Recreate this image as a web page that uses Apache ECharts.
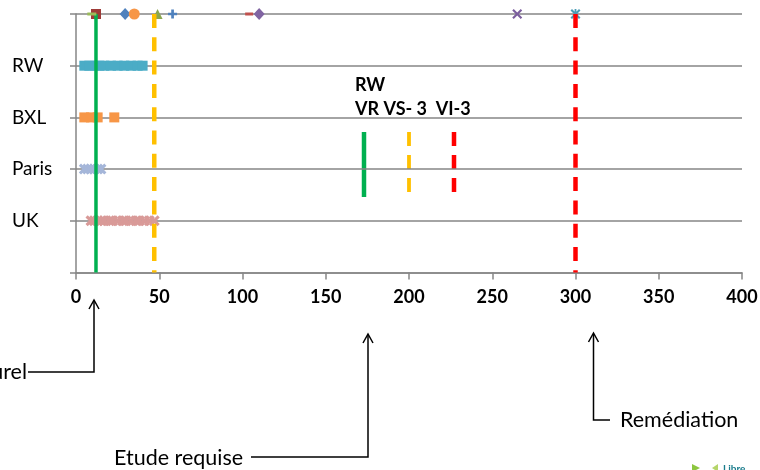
<!DOCTYPE html>
<html><head><meta charset="utf-8">
<script src="https://cdn.jsdelivr.net/npm/echarts@6/dist/echarts.min.js"></script>
<style>html,body{margin:0;padding:0;background:#fff;overflow:hidden}#c{width:760px;height:470px}</style>
</head><body><div id="c"></div>
<script>
// ---- data ----
const rowLabels = ['', 'UK', 'Paris', 'BXL', 'RW', ''];
const xMin = 0, xMax = 400, xStep = 50;
const rwValues = [5, 8, 11, 14, 17, 21, 25, 29, 33, 37, 40];
const bxlValues = [5, 9, 13, 23];
const parisValues = [5, 7, 9, 11, 13, 15];
const ukValues = [9, 11, 13, 15, 17, 20, 22, 25, 28, 30, 33, 36, 38, 41, 44, 47];
const topValues = [12, 9.5, 29.5, 35, 49, 58, 104, 110, 265, 300];
const vrValue = 12;   // valeur de référence
const vsValue = 47;   // valeur seuil
const viValue = 300;  // valeur d'intervention
const legendTitle = 'RW';
const legendLine = 'VR VS- 3  VI-3';
const annotations = ['naturel', 'Etude requise', 'Remédiation'];

// ---- styles ----
const FONT = 'Lato';
const GRID = '#868686';
const X_PATH = 'path://M0,1.5L1.5,0L5,3.5L8.5,0L10,1.5L6.5,5L10,8.5L8.5,10L5,6.5L1.5,10L0,8.5L3.5,5Z';
const XB_PATH = 'path://M0,2L2,0L5,3L8,0L10,2L7,5L10,8L8,10L5,7L2,10L0,8L3,5Z';
const PLUS_PATH = 'path://M3.5,0H6.5V3.5H10V6.5H6.5V10H3.5V6.5H0V3.5H3.5Z';
const AST_PATH = 'path://M0,1.5L1.5,0L5,3.5L8.5,0L10,1.5L6.5,5L10,8.5L8.5,10L5,6.5L1.5,10L0,8.5L3.5,5Z M4.1,0H5.9V10H4.1Z';
const topStyles = [
  {symbol: 'rect', size: 10, color: '#9E3B38', z: 2},
  {symbol: 'rect', size: [9, 3], color: '#9BBB59', z: 5},
  {symbol: 'diamond', size: [11, 12], color: '#4F81BD', z: 2},
  {symbol: 'circle', size: 11, color: '#F79646', z: 2},
  {symbol: 'triangle', size: [10, 10], color: '#8BA64F', z: 2},
  {symbol: PLUS_PATH, size: 9, color: '#4F81BD', z: 2},
  {symbol: 'rect', size: [8, 3], color: '#C0504D', z: 2},
  {symbol: 'diamond', size: [11, 12], color: '#8064A2', z: 2},
  {symbol: X_PATH, size: 10, color: '#7B5E9E', z: 2},
  {symbol: AST_PATH, size: 10, color: '#4B9DB6', z: 2}
];

function rowSeries(vals, y, symbol, size, color) {
  return {type: 'scatter', data: vals.map(v => [v, y]), symbol: symbol, symbolSize: size,
    itemStyle: {color: color, opacity: 1}, silent: true, z: 2};
}
function vline(x, color, width, dash) {
  return {type: 'line', data: [[x, 5], [x, 0]], symbol: 'none', silent: true, z: 4,
    lineStyle: {color: color, width: width, type: dash || 'solid', cap: 'butt'}};
}

const series = [
  rowSeries(rwValues, 4, 'rect', 10, '#4BACC6'),
  rowSeries(bxlValues, 3, 'rect', 10, '#F79646'),
  rowSeries(parisValues, 2, XB_PATH, [11, 11], '#A5B6D9'),
  rowSeries(ukValues, 1, XB_PATH, [11, 11], '#D99A98')
];
topValues.forEach((v, i) => {
  const s = topStyles[i];
  series.push({type: 'scatter', data: [[v, 5]], symbol: s.symbol, symbolSize: s.size,
    itemStyle: {color: s.color, opacity: 1}, silent: true, z: s.z});
});
series.push(vline(vrValue, '#00B050', 3.5));
series.push(vline(vsValue, '#FFC000', 4.5, [14, 9.3]));
series.push(vline(viValue, '#FF0000', 4.5, [14, 9.3]));

function arrow(points, tipX, tipY) {
  return [
    {type: 'polyline', shape: {points: points}, style: {stroke: '#000', lineWidth: 1.5, fill: null}, silent: true},
    {type: 'polyline', shape: {points: [[tipX - 5, tipY + 9], [tipX, tipY], [tipX + 5, tipY + 9]]},
      style: {stroke: '#000', lineWidth: 1.5, fill: null}, silent: true}
  ];
}

const graphics = [
  {type: 'text', left: 355, top: 76, style: {text: legendTitle, font: 'bold 18px ' + FONT, fill: '#000'}},
  {type: 'text', left: 355, top: 100, style: {text: legendLine, font: 'bold 18px ' + FONT, fill: '#000'}},
  {type: 'line', shape: {x1: 364, y1: 132, x2: 364, y2: 197}, style: {stroke: '#00B050', lineWidth: 4.5}},
  {type: 'line', shape: {x1: 409, y1: 132, x2: 409, y2: 192}, style: {stroke: '#FFC000', lineWidth: 3.8, lineDash: [14, 9]}},
  {type: 'line', shape: {x1: 454, y1: 132, x2: 454, y2: 192}, style: {stroke: '#FF0000', lineWidth: 4.5, lineDash: [14, 9]}},
  {type: 'text', x: 27, y: 372, style: {text: annotations[0], font: '21.5px ' + FONT, fill: '#000', align: 'right', verticalAlign: 'middle'}},
  ...arrow([[28, 372], [94, 372], [94, 301]], 94, 300),
  {type: 'text', x: 114, y: 458, style: {text: annotations[1], font: '21.5px ' + FONT, fill: '#000', align: 'left', verticalAlign: 'middle'}},
  ...arrow([[251, 457], [368, 457], [368, 335]], 368, 334),
  {type: 'text', x: 620, y: 420, style: {text: annotations[2], font: '21.5px ' + FONT, fill: '#000', align: 'left', verticalAlign: 'middle'}},
  ...arrow([[610, 420], [593.5, 420], [593.5, 334]], 593.5, 333),
  {type: 'polygon', shape: {points: [[692, 464], [700, 468], [692, 472]]}, style: {fill: '#8DC63F'}, silent: true},
  {type: 'polygon', shape: {points: [[712, 468], [718, 464], [718, 472]]}, style: {fill: '#B5D56A'}, silent: true},
  {type: 'text', x: 723, y: 464, style: {text: 'Libre', font: 'bold 10px ' + FONT, fill: '#1A7C8C', verticalAlign: 'top'}, silent: true}
];

const chart = echarts.init(document.getElementById('c'), null, {renderer: 'canvas'});
chart.setOption({
  animation: false,
  backgroundColor: '#fff',
  grid: {left: 76, right: 18, top: 14, bottom: 197.5, containLabel: false, outerBoundsMode: 'none'},
  xAxis: {
    type: 'value', min: xMin, max: xMax, interval: xStep,
    axisLine: {show: true, lineStyle: {color: GRID, width: 1.5}},
    axisTick: {show: true, length: 7, inside: false, lineStyle: {color: GRID, width: 1.5}},
    axisLabel: {color: '#000', fontFamily: FONT, fontWeight: 'bold', fontSize: 18, margin: 16},
    splitLine: {show: false}
  },
  yAxis: {
    type: 'value', min: 0, max: 5, interval: 1,
    axisLine: {show: true, lineStyle: {color: GRID, width: 1.5}},
    axisTick: {show: true, length: 6, lineStyle: {color: GRID, width: 1.5}},
    axisLabel: {color: '#000', fontFamily: FONT, fontSize: 19, align: 'left', margin: 64,
      formatter: v => rowLabels[v] || ''},
    splitLine: {show: true, lineStyle: {color: GRID, width: 1.5}}
  },
  series: series,
  graphic: graphics
});
</script></body></html>
